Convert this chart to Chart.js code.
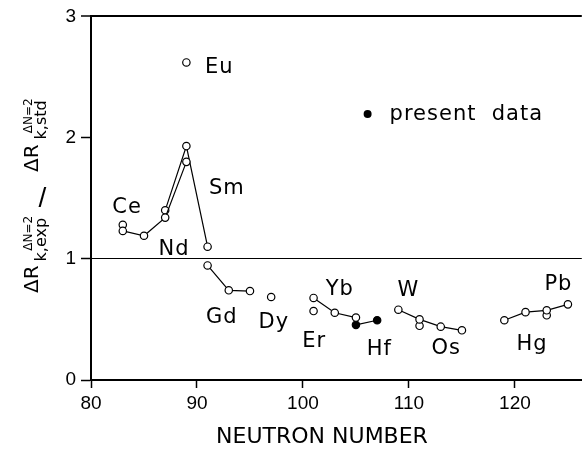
<!DOCTYPE html>
<html>
<head>
<meta charset="utf-8">
<script src="https://cdn.jsdelivr.net/npm/chart.js@4/dist/chart.umd.min.js"></script>
<style>
    html, body { margin: 0; padding: 0; background: #fff; }
    #wrap { width: 587px; height: 450px; position: relative; }
</style>
</head>
<body>
<div id="wrap"><canvas id="chart"></canvas></div>
<script>
// axis ticks
const xTicks = [80, 90, 100, 110, 120];
const yTicks = [0, 1, 2, 3];

// Ce - Nd - Sm, two branches
const nLowBranch = [83, 85, 87, 89];
const rLowBranch = [1.23, 1.19, 1.34, 1.80];
const nHighBranch = [87, 89, 91];
const rHighBranch = [1.40, 1.93, 1.10];
const nCeSingle = [83];
const rCeSingle = [1.28];
const nEu = [89];
const rEu = [2.62];
const nGd = [91, 93, 95];
const rGd = [0.945, 0.74, 0.734];
const nDy = [97];
const rDy = [0.685];
const nYb = [101, 103, 105];
const rYb = [0.677, 0.555, 0.515];
const nEr = [101];
const rEr = [0.569];
// present data (filled)
const nHf = [105, 107];
const rHf = [0.455, 0.493];
const nW = [109, 111, 113, 115];
const rW = [0.58, 0.50, 0.44, 0.41];
const nWSingle = [111];
const rWSingle = [0.447];
const nHg = [119, 121, 123, 125];
const rHg = [0.493, 0.56, 0.575, 0.624];
const nHgSingle = [123];
const rHgSingle = [0.534];

// element names, anchored in data units (baseline centre)
const elementNames = ["Ce", "Nd", "Sm", "Eu", "Gd", "Dy", "Yb", "Er", "Hf", "W", "Os", "Hg", "Pb"];
const nameN = [83.4, 87.84, 92.82, 92.1, 92.35, 97.25, 103.48, 101.07, 107.2, 109.94, 113.52, 121.61, 124.1];
const nameR = [1.382, 1.03, 1.531, 2.534, 0.474, 0.428, 0.705, 0.271, 0.203, 0.691, 0.217, 0.244, 0.746];

const legendText = "present  data";
const legendN = 106.1;
const legendR = 2.195;

const xTitle = "NEUTRON NUMBER";

function toPoints(xs, ys) {
    return xs.map((v, i) => ({ x: v, y: ys[i] }));
}

function series(xs, ys, filled, withLine) {
    return {
        data: toPoints(xs, ys),
        showLine: withLine,
        borderColor: "#000",
        borderWidth: 1.2,
        pointRadius: 3.7,
        pointBorderWidth: 1.2,
        pointBorderColor: "#000",
        pointBackgroundColor: filled ? "#000" : "#fff",
        clip: false
    };
}

const annotations = {
    id: "annotations",
    afterDatasetsDraw(chart) {
        const { ctx, scales: { x, y } } = chart;
        ctx.save();
        ctx.fillStyle = "#000";
        ctx.font = "21px 'DejaVu Sans'";
        ctx.letterSpacing = "1px";
        ctx.textAlign = "center";
        ctx.textBaseline = "alphabetic";
        elementNames.forEach((name, i) => {
            ctx.fillText(name, x.getPixelForValue(nameN[i]), y.getPixelForValue(nameR[i]));
        });

        // legend marker
        const lx = x.getPixelForValue(legendN);
        const ly = y.getPixelForValue(legendR);
        ctx.beginPath();
        ctx.arc(lx, ly, 4, 0, Math.PI * 2);
        ctx.fill();
        ctx.textAlign = "left";
        ctx.fillText(legendText, lx + 22, ly + 6);
        ctx.restore();
    },
    afterDraw(chart) {
        const { ctx } = chart;
        ctx.save();
        ctx.fillStyle = "#000";

        // x title
        ctx.font = "22px 'DejaVu Sans'";
        ctx.textAlign = "center";
        ctx.textBaseline = "alphabetic";
        ctx.fillText(xTitle, 322, 443);

        // y title, rotated
        ctx.save();
        ctx.translate(38, 293);
        ctx.rotate(-Math.PI / 2);
        ctx.textAlign = "left";
        ctx.font = "20px 'DejaVu Sans'";
        const wR = ctx.measureText("\u0394R").width;
        ctx.fillText("\u0394R", 0, 0);
        drawScripts(ctx, wR + 4, "k,exp");
        ctx.font = "20px 'DejaVu Sans'";
        ctx.fillText("\u0394R", 121, 0);
        drawScripts(ctx, 121 + wR + 5, "k,std");
        ctx.restore();

        // the slash stands upright in the original
        ctx.font = "28px 'Liberation Sans'";
        ctx.textAlign = "center";
        ctx.textBaseline = "middle";
        ctx.fillText("/", 42.5, 199);
        ctx.restore();
    }
};

function drawScripts(ctx, u, sub) {
    ctx.font = "16px 'DejaVu Sans'";
    const wSub = ctx.measureText(sub).width;
    ctx.fillText(sub, u, 8);
    ctx.font = "12px 'DejaVu Sans'";
    const wSup = ctx.measureText("\u0394N=2").width;
    ctx.fillText("\u0394N=2", u + wSub - wSup + 2, -6);
}

new Chart(document.getElementById("chart"), {
    type: "scatter",
    data: {
        datasets: [
            series(nLowBranch, rLowBranch, false, true),
            series(nHighBranch, rHighBranch, false, true),
            series(nCeSingle, rCeSingle, false, false),
            series(nEu, rEu, false, false),
            series(nGd, rGd, false, true),
            series(nDy, rDy, false, false),
            series(nYb, rYb, false, true),
            series(nEr, rEr, false, false),
            series(nHf, rHf, true, true),
            series(nW, rW, false, true),
            series(nWSingle, rWSingle, false, false),
            series(nHg, rHg, false, true),
            series(nHgSingle, rHgSingle, false, false)
        ]
    },
    options: {
        responsive: true,
        maintainAspectRatio: false,
        animation: false,
        layout: { padding: { top: 11, right: 0, bottom: 0, left: 0 } },
        plugins: {
            legend: { display: false },
            tooltip: { enabled: false }
        },
        scales: {
            x: {
                type: "linear",
                min: 80,
                max: 126.31,
                afterFit: function(s) { s.height = 70; },
                afterBuildTicks: function(s) { s.ticks = xTicks.map(v => ({ value: v })); },
                border: { display: true, color: "#000", width: 2 },
                grid: {
                    drawOnChartArea: false,
                    drawTicks: true,
                    tickLength: 8,
                    tickColor: "#000",
                    tickWidth: 1.5
                },
                ticks: {
                    color: "#000",
                    padding: 4,
                    maxRotation: 0,
                    font: { family: "'Liberation Sans'", size: 19 }
                }
            },
            y: {
                type: "linear",
                min: 0,
                max: 3,
                afterFit: function(s) { s.width = 91; },
                afterBuildTicks: function(s) { s.ticks = yTicks.map(v => ({ value: v })); },
                border: { display: true, color: "#000", width: 2 },
                grid: {
                    color: function(c) {
                        return (c.tick && (c.tick.value === 1 || c.tick.value === 3)) ? "#000" : "rgba(0,0,0,0)";
                    },
                    lineWidth: function(c) {
                        return (c.tick && c.tick.value === 3) ? 2 : 1;
                    },
                    drawTicks: true,
                    tickLength: 10,
                    tickColor: "#000",
                    tickWidth: 1.5
                },
                ticks: {
                    color: "#000",
                    padding: 5,
                    font: { family: "'Liberation Sans'", size: 19 }
                }
            }
        }
    },
    plugins: [annotations]
});
</script>
</body>
</html>
